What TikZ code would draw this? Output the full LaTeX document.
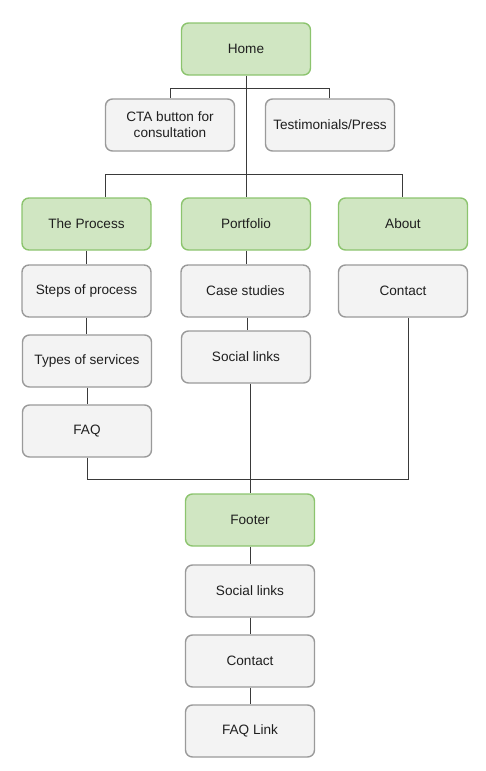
\documentclass[tikz,border=0pt]{standalone}
\usepackage{fontspec}
\setmainfont{Liberation Sans}
\usetikzlibrary{calc}
\definecolor{gfill}{HTML}{D0E6C2}
\definecolor{gdraw}{HTML}{8CC46E}
\definecolor{bfill}{HTML}{F3F3F3}
\definecolor{bdraw}{HTML}{9A9A9A}
\definecolor{lnk}{HTML}{3A3A3A}
\begin{document}
\begin{tikzpicture}[x=1pt,y=-1pt,
  box/.style={rounded corners=7pt,line width=1.4pt,minimum width=129pt,minimum height=52pt,inner sep=2pt,align=center,font=\fontsize{13.6}{16}\selectfont,text=black!88},
  gbox/.style={box,draw=gdraw,fill=gfill},
  wbox/.style={box,draw=bdraw,fill=bfill},
  con/.style={draw=lnk,line width=0.9pt}]
\useasboundingbox (0,0) rectangle (485,771);
\node[gbox] (home) at (246,49) {Home};
\node[wbox] (cta) at (170,125) {CTA button for\\consultation};
\node[wbox] (test) at (330,125) {Testimonials/Press};
\node[gbox] (proc) at (86.5,224) {The Process};
\node[gbox] (port) at (246,224) {Portfolio};
\node[gbox] (about) at (403,224) {About};
\node[wbox] (steps) at (86.5,291) {Steps of process};
\node[wbox] (case) at (245.5,291) {Case studies};
\node[wbox] (contact) at (403,291) {Contact};
\node[wbox] (types) at (87,361) {Types of services};
\node[wbox] (social) at (246,357) {Social links};
\node[wbox] (faq) at (87,431) {FAQ};
\node[gbox] (footer) at (250,520) {Footer};
\node[wbox] (fsocial) at (250,591) {Social links};
\node[wbox] (fcontact) at (250,661) {Contact};
\node[wbox] (faqlink) at (250,731) {FAQ Link};
% coordinates
\coordinate (b1) at (246,88);
\coordinate (b1l) at (170,88);
\coordinate (b1r) at (329,88);
\coordinate (b2) at (246,174);
\coordinate (b2l) at (105,174);
\coordinate (b2r) at (402,174);
\coordinate (b3l) at (87,479);
\coordinate (b3r) at (408,479);
\coordinate (b3m) at (250,479);
\draw[con] (home.south) -- (b2);
\draw[con] (b1l) -- (b1r);
\draw[con] (b1l) -- (cta.north -| b1l);
\draw[con] (b1r) -- (test.north -| b1r);
\draw[con] (b2l) -- (b2r);
\draw[con] (b2l) -- (proc.north -| b2l);
\draw[con] (b2) -- (port.north);
\draw[con] (b2r) -- (about.north -| b2r);
\draw[con] (proc.south) -- (steps.north);
\draw[con] (steps.south) -- (types.north -| steps.south);
\draw[con] (types.south) -- (faq.north);
\draw[con] (port.south) -- (case.north -| port.south);
\draw[con] ($(case.south)+(2,0)$) -- ($(social.north)+(1.5,0)$);
\draw[con] (faq.south) -- (b3l) -- (b3r) -- (contact.south -| b3r);
\draw[con] (social.south -| b3m) -- (footer.north);
\draw[con] (footer.south) -- (fsocial.north);
\draw[con] (fsocial.south) -- (fcontact.north);
\draw[con] (fcontact.south) -- (faqlink.north);
\end{tikzpicture}
\end{document}
